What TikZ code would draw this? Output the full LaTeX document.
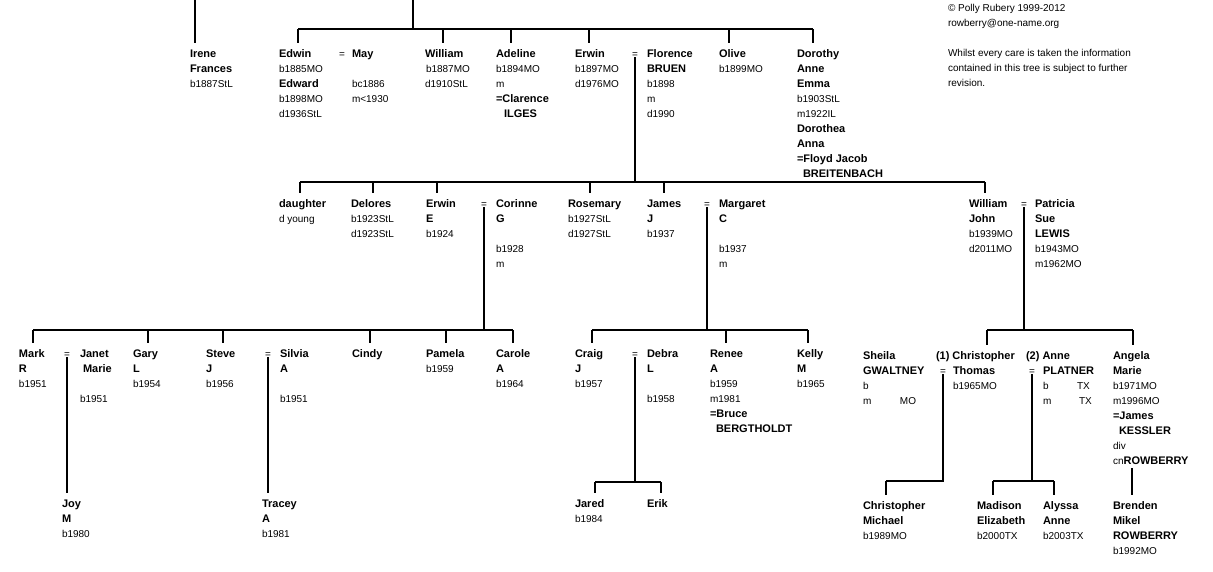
\documentclass[tikz,border=0pt]{standalone}
\usepackage{fontspec}
\setmainfont{Liberation Sans}
\newcommand{\Rs}{\rule[-4pt]{0pt}{14pt}}
\newcommand{\Pl}[1]{\hbox{\Rs #1}}
\newcommand{\Bt}[1]{{\fontsize{11}{15}\selectfont\bfseries #1}}
\newcommand{\Bl}[1]{\hbox{\Rs\Bt{#1}}}
\newcommand{\El}{\hbox{\Rs}}
\newcommand{\Blk}[1]{\vbox{\baselineskip=15pt\lineskiplimit=-20pt #1}}
\tikzset{
  blk/.style={anchor=north west, inner sep=0pt, outer sep=0pt, font=\fontsize{10}{15}\selectfont},
  eqs/.style={anchor=base, inner sep=0pt, outer sep=0pt, font=\fontsize{10}{15}\selectfont},
  ln/.style={line width=2pt, black},
  drop/.style={line width=2pt, black, shorten >=4pt}
}
\begin{document}
\begin{tikzpicture}[x=1pt,y=-1pt]
\fill[white] (0,0) rectangle (1213,571);
\useasboundingbox (0,0) rectangle (1213,571);

% ---------- generation 1 ----------
\node[blk] (irene) at (190,47) {\Blk{\Bl{Irene}\Bl{Frances}\Pl{b1887StL}}};
\node[blk] (edwin) at (279,47) {\Blk{\Bl{Edwin}\Pl{b1885MO}\Bl{Edward}\Pl{b1898MO}\Pl{d1936StL}}};
\node[eqs] (eqEM) at (342,57) {=};
\node[blk] (may) at (352,47) {\Blk{\Bl{May}\El\Pl{bc1886}\Pl{m<1930}}};
\node[blk] (william) at (425,47) {\Blk{\Bl{William}\Pl{\hspace*{1pt}b1887MO}\Pl{d1910StL}}};
\node[blk] (adeline) at (496,47) {\Blk{\Bl{Adeline}\Pl{b1894MO}\Pl{m}\Bl{=Clarence}\Bl{\hspace*{8pt}ILGES}}};
\node[blk] (erwin) at (575,47) {\Blk{\Bl{Erwin}\Pl{b1897MO}\Pl{d1976MO}}};
\node[eqs] (eqEF) at (635,57) {=};
\node[blk] (florence) at (647,47) {\Blk{\Bl{Florence}\Bl{BRUEN}\Pl{b1898}\Pl{m}\Pl{d1990}}};
\node[blk] (olive) at (719,47) {\Blk{\Bl{Olive}\Pl{b1899MO}}};
\node[blk] (dorothy) at (797,47) {\Blk{\Bl{Dorothy}\Bl{Anne}\Bl{Emma}\Pl{b1903StL}\Pl{m1922IL}\Bl{Dorothea}\Bl{Anna}\Bl{=Floyd Jacob}\Bl{\hspace*{6pt}BREITENBACH}}};

\node[blk] (copy) at (948,1) {\Blk{\Pl{© Polly Rubery 1999-2012}\Pl{rowberry@one-name.org}\El\Pl{Whilst every care is taken the information}\Pl{contained in this tree is subject to further}\Pl{revision.}}};

\coordinate (itop) at (195,0);
\draw[drop] (itop) -- (itop |- irene.north);
\coordinate (ttop) at (413,0);
\coordinate (tbar) at (413,29);
\draw[ln] (ttop) -- (tbar);
\coordinate (g1L) at (298,29);
\coordinate (g1R) at (813,29);
\draw[ln] (g1L) -- (g1R);
\coordinate (d1a) at (298,29); \draw[drop] (d1a) -- (d1a |- edwin.north);
\coordinate (d1b) at (443,29); \draw[drop] (d1b) -- (d1b |- william.north);
\coordinate (d1c) at (511,29); \draw[drop] (d1c) -- (d1c |- adeline.north);
\coordinate (d1d) at (589,29); \draw[drop] (d1d) -- (d1d |- erwin.north);
\coordinate (d1e) at (729,29); \draw[drop] (d1e) -- (d1e |- olive.north);
\coordinate (d1f) at (813,29); \draw[drop] (d1f) -- (d1f |- dorothy.north);

% ---------- generation 2 ----------
\node[blk] (daughter) at (279,197) {\Blk{\Bl{daughter}\Pl{d young}}};
\node[blk] (delores) at (351,197) {\Blk{\Bl{Delores}\Pl{b1923StL}\Pl{d1923StL}}};
\node[blk] (erwinE) at (426,197) {\Blk{\Bl{Erwin}\Bl{E}\Pl{b1924}}};
\node[eqs] (eqEC) at (484,207) {=};
\node[blk] (corinne) at (496,197) {\Blk{\Bl{Corinne}\Bl{G}\El\Pl{b1928}\Pl{m}}};
\node[blk] (rosemary) at (568,197) {\Blk{\Bl{Rosemary}\Pl{b1927StL}\Pl{d1927StL}}};
\node[blk] (james) at (647,197) {\Blk{\Bl{James}\Bl{J}\Pl{b1937}}};
\node[eqs] (eqJM) at (707,207) {=};
\node[blk] (margaret) at (719,197) {\Blk{\Bl{Margaret}\Bl{C}\El\Pl{b1937}\Pl{m}}};
\node[blk] (williamJ) at (969,197) {\Blk{\Bl{William}\Bl{John}\Pl{b1939MO}\Pl{d2011MO}}};
\node[eqs] (eqWP) at (1024,207) {=};
\node[blk] (patricia) at (1035,197) {\Blk{\Bl{Patricia}\Bl{Sue}\Bl{LEWIS}\Pl{b1943MO}\Pl{m1962MO}}};

\coordinate (j2) at (635,182);
\draw[ln] (eqEF.south) -- (j2);
\coordinate (g2L) at (300,182);
\coordinate (g2R) at (985,182);
\draw[ln] (g2L) -- (g2R);
\coordinate (d2a) at (300,182); \draw[drop] (d2a) -- (d2a |- daughter.north);
\coordinate (d2b) at (373,182); \draw[drop] (d2b) -- (d2b |- delores.north);
\coordinate (d2c) at (437,182); \draw[drop] (d2c) -- (d2c |- erwinE.north);
\coordinate (d2d) at (590,182); \draw[drop] (d2d) -- (d2d |- rosemary.north);
\coordinate (d2e) at (664,182); \draw[drop] (d2e) -- (d2e |- james.north);
\coordinate (d2f) at (985,182); \draw[drop] (d2f) -- (d2f |- williamJ.north);

% ---------- generation 3 ----------
\node[blk] (mark) at (19,347) {\Blk{\Bl{Mark}\Bl{R}\Pl{b1951}}};
\node[eqs] (eqMJ) at (67,357) {=};
\node[blk] (janet) at (80,347) {\Blk{\Bl{Janet}\Bl{\hspace*{3pt}Marie}\El\Pl{b1951}}};
\node[blk] (gary) at (133,347) {\Blk{\Bl{Gary}\Bl{L}\Pl{b1954}}};
\node[blk] (steve) at (206,347) {\Blk{\Bl{Steve}\Bl{J}\Pl{b1956}}};
\node[eqs] (eqSS) at (268,357) {=};
\node[blk] (silvia) at (280,347) {\Blk{\Bl{Silvia}\Bl{A}\El\Pl{b1951}}};
\node[blk] (cindy) at (352,347) {\Blk{\Bl{Cindy}}};
\node[blk] (pamela) at (426,347) {\Blk{\Bl{Pamela}\Pl{b1959}}};
\node[blk] (carole) at (496,347) {\Blk{\Bl{Carole}\Bl{A}\Pl{b1964}}};

\node[blk] (craig) at (575,347) {\Blk{\Bl{Craig}\Bl{J}\Pl{b1957}}};
\node[eqs] (eqCD) at (635,357) {=};
\node[blk] (debra) at (647,347) {\Blk{\Bl{Debra}\Bl{L}\El\Pl{b1958}}};
\node[blk] (renee) at (710,347) {\Blk{\Bl{Renee}\Bl{A}\Pl{b1959}\Pl{m1981}\Bl{=Bruce}\Bl{\hspace*{6pt}BERGTHOLDT}}};
\node[blk] (kelly) at (797,347) {\Blk{\Bl{Kelly}\Bl{M}\Pl{b1965}}};

\node[blk] (sheila) at (863,349) {\Blk{\Bl{Sheila}\Bl{GWALTNEY}\Pl{b}\Pl{\makebox[37pt][l]{m}MO}}};
\node[blk] (chris) at (936,349) {\Blk{\Bl{(1) Christopher}\Bl{\hspace*{17pt}Thomas}\Pl{\hspace*{17pt}b1965MO}}};
\node[eqs] (eqSC) at (943,374) {=};
\node[blk] (anne) at (1026,349) {\Blk{\Bl{(2) Anne}\Bl{\hspace*{17pt}PLATNER}\Pl{\hspace*{17pt}\makebox[34pt][l]{b}TX}\Pl{\hspace*{17pt}\makebox[36pt][l]{m}TX}}};
\node[eqs] (eqCA) at (1032,374) {=};
\node[blk] (angela) at (1113,349) {\Blk{\Bl{Angela}\Bl{Marie}\Pl{b1971MO}\Pl{m1996MO}\Bl{=James}\Bl{\hspace*{6pt}KESSLER}\Pl{div}\Pl{cn\Bt{ROWBERRY}}}};

\coordinate (j3a) at (484,330);
\draw[ln] (eqEC.south) -- (j3a);
\coordinate (g3aL) at (33,330);
\coordinate (g3aR) at (513,330);
\draw[ln] (g3aL) -- (g3aR);
\coordinate (d3a) at (33,330);  \draw[drop] (d3a) -- (d3a |- mark.north);
\coordinate (d3b) at (148,330); \draw[drop] (d3b) -- (d3b |- gary.north);
\coordinate (d3c) at (223,330); \draw[drop] (d3c) -- (d3c |- steve.north);
\coordinate (d3d) at (370,330); \draw[drop] (d3d) -- (d3d |- cindy.north);
\coordinate (d3e) at (446,330); \draw[drop] (d3e) -- (d3e |- pamela.north);
\coordinate (d3f) at (513,330); \draw[drop] (d3f) -- (d3f |- carole.north);

\coordinate (j3b) at (707,330);
\draw[ln] (eqJM.south) -- (j3b);
\coordinate (g3bL) at (592,330);
\coordinate (g3bR) at (808,330);
\draw[ln] (g3bL) -- (g3bR);
\coordinate (d3g) at (592,330); \draw[drop] (d3g) -- (d3g |- craig.north);
\coordinate (d3h) at (726,330); \draw[drop] (d3h) -- (d3h |- renee.north);
\coordinate (d3i) at (808,330); \draw[drop] (d3i) -- (d3i |- kelly.north);

\coordinate (j3c) at (1024,330);
\draw[ln] (eqWP.south) -- (j3c);
\coordinate (g3cL) at (987,330);
\coordinate (g3cR) at (1133,330);
\draw[ln] (g3cL) -- (g3cR);
\coordinate (d3j) at (987,330);  \draw[drop] (d3j) -- (d3j |- chris.north);
\coordinate (d3k) at (1133,330); \draw[drop] (d3k) -- (d3k |- angela.north);

% ---------- generation 4 ----------
\node[blk] (joy) at (62,497) {\Blk{\Bl{Joy}\Bl{M}\Pl{b1980}}};
\node[blk] (tracey) at (262,497) {\Blk{\Bl{Tracey}\Bl{A}\Pl{b1981}}};
\node[blk] (jared) at (575,497) {\Blk{\Bl{Jared}\Pl{b1984}}};
\node[blk] (erik) at (647,497) {\Blk{\Bl{Erik}}};
\node[blk] (chrisM) at (863,499) {\Blk{\Bl{Christopher}\Bl{Michael}\Pl{b1989MO}}};
\node[blk] (madison) at (977,499) {\Blk{\Bl{Madison}\Bl{Elizabeth}\Pl{b2000TX}}};
\node[blk] (alyssa) at (1043,499) {\Blk{\Bl{Alyssa}\Bl{Anne}\Pl{b2003TX}}};
\node[blk] (brenden) at (1113,499) {\Blk{\Bl{Brenden}\Bl{Mikel}\Bl{ROWBERRY}\Pl{b1992MO}}};

\draw[drop] (eqMJ.south) -- (eqMJ.south |- joy.north);
\draw[drop] (eqSS.south) -- (eqSS.south |- tracey.north);

\coordinate (j4a) at (635,482);
\draw[ln] (eqCD.south) -- (j4a);
\coordinate (g4aL) at (595,482);
\coordinate (g4aR) at (661,482);
\draw[ln] (g4aL) -- (g4aR);
\draw[drop] (g4aL) -- (g4aL |- jared.north);
\draw[drop] (g4aR) -- (g4aR |- erik.north);

\coordinate (j4b) at (943,481);
\coordinate (g4bL) at (886,481);
\draw[ln] (eqSC.south) -- (j4b) -- (g4bL);
\draw[drop] (g4bL) -- (g4bL |- chrisM.north);

\coordinate (j4c) at (1032,481);
\draw[ln] (eqCA.south) -- (j4c);
\coordinate (g4cL) at (993,481);
\coordinate (g4cR) at (1054,481);
\draw[ln] (g4cL) -- (g4cR);
\draw[drop] (g4cL) -- (g4cL |- madison.north);
\draw[drop] (g4cR) -- (g4cR |- alyssa.north);

\coordinate (j4d) at (1132,468);
\draw[drop] (j4d) -- (j4d |- brenden.north);
\end{tikzpicture}
\end{document}
